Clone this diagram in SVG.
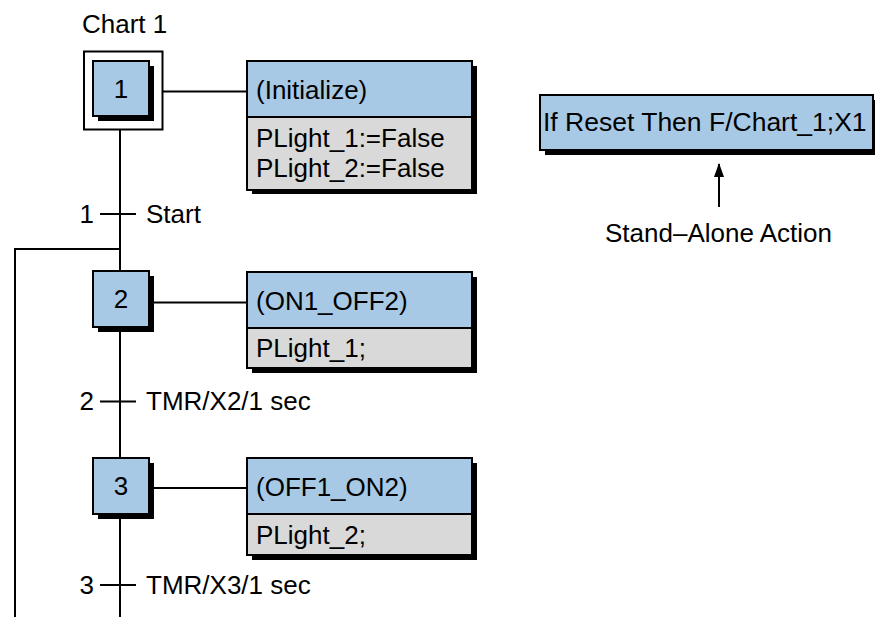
<svg xmlns="http://www.w3.org/2000/svg" width="876" height="617" viewBox="0 0 876 617">
<defs>
<style>
.t{font-family:"Liberation Sans",Arial,sans-serif;font-size:26px;fill:#000}
.ln{stroke:#000;stroke-width:2;fill:none}
.bx{stroke:#000;stroke-width:2}
.blue{fill:#A8C9E5}
.gray{fill:#D9D9D9}
.sh{fill:#000}
</style>
<marker id="ah" viewBox="0 0 14 10" refX="13" refY="5" markerWidth="14" markerHeight="10" markerUnits="userSpaceOnUse" orient="auto">
<path d="M0,0 L14,5 L0,10 z" fill="#000"/>
</marker>
</defs>
<rect width="876" height="617" fill="#fff"/>

<g id="connectors">
<line class="ln" x1="120" y1="129" x2="120" y2="617"/>
<polyline class="ln" points="120,249 15,249 15,617"/>
<line class="ln" x1="163" y1="91.5" x2="247" y2="91.5"/>
<line class="ln" x1="150" y1="302.5" x2="247" y2="302.5"/>
<line class="ln" x1="150" y1="488" x2="247" y2="488"/>
<line class="ln" x1="719" y1="207" x2="719" y2="164" marker-end="url(#ah)"/>
</g>

<text class="t" x="82" y="33">Chart 1</text>

<g id="step1">
<rect x="84" y="51.5" width="78.5" height="78" fill="#fff" class="bx"/>
<rect class="sh" x="98" y="66" width="56" height="55"/>
<rect class="bx blue" x="93" y="61" width="56" height="55"/>
<text class="t" x="121" y="97.5" text-anchor="middle">1</text>
</g>

<g id="action1">
<rect class="sh" x="252" y="66" width="225" height="128"/>
<rect class="bx blue" x="247" y="61" width="225" height="56"/>
<rect class="bx gray" x="247" y="117" width="225" height="73"/>
<text class="t" x="256" y="98.5">(Initialize)</text>
<text class="t" x="256" y="147">PLight_1:=False</text>
<text class="t" x="256" y="177">PLight_2:=False</text>
</g>

<g id="trans1">
<line class="ln" x1="100" y1="214" x2="136" y2="214"/>
<text class="t" x="94" y="222.5" text-anchor="end">1</text>
<text class="t" x="146" y="222.5">Start</text>
</g>

<g id="step2">
<rect class="sh" x="98" y="276" width="56" height="56"/>
<rect class="bx blue" x="93" y="271" width="56" height="56"/>
<text class="t" x="121" y="308" text-anchor="middle">2</text>
</g>

<g id="action2">
<rect class="sh" x="252" y="277" width="225" height="96"/>
<rect class="bx blue" x="247" y="272" width="225" height="56"/>
<rect class="bx gray" x="247" y="328" width="225" height="40"/>
<text class="t" x="256" y="309.5">(ON1_OFF2)</text>
<text class="t" x="256" y="357">PLight_1;</text>
</g>

<g id="trans2">
<line class="ln" x1="100" y1="401.5" x2="136" y2="401.5"/>
<text class="t" x="94" y="410" text-anchor="end">2</text>
<text class="t" x="146" y="410">TMR/X2/1 sec</text>
</g>

<g id="step3">
<rect class="sh" x="98" y="463" width="56" height="56"/>
<rect class="bx blue" x="93" y="458" width="56" height="56"/>
<text class="t" x="121" y="495" text-anchor="middle">3</text>
</g>

<g id="action3">
<rect class="sh" x="252" y="463" width="225" height="97"/>
<rect class="bx blue" x="247" y="458" width="225" height="56"/>
<rect class="bx gray" x="247" y="514" width="225" height="41"/>
<text class="t" x="256" y="496">(OFF1_ON2)</text>
<text class="t" x="256" y="543.5">PLight_2;</text>
</g>

<g id="trans3">
<line class="ln" x1="100" y1="585" x2="136" y2="585"/>
<text class="t" x="94" y="593.5" text-anchor="end">3</text>
<text class="t" x="146" y="593.5">TMR/X3/1 sec</text>
</g>

<g id="standalone">
<rect class="sh" x="545" y="100" width="330" height="55"/>
<rect class="bx blue" x="540" y="95" width="333" height="55"/>
<text class="t" x="543" y="130.5" style="font-size:26.5px">If Reset Then F/Chart_1;X1</text>
</g>

<text class="t" x="605" y="242">Stand–Alone Action</text>
</svg>
